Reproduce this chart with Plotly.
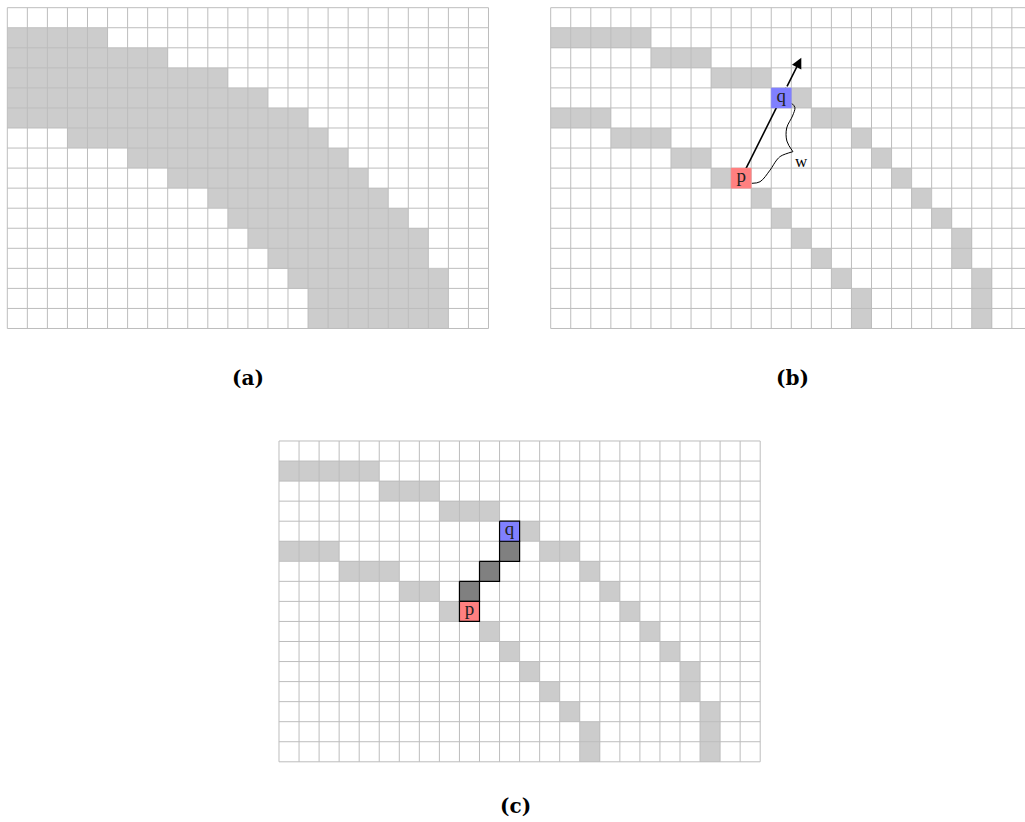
import plotly.graph_objects as go

W, H = 1025, 822
CELL = 20.05          # px per grid cell
PAD = 0.06            # extra range (cells) so border lines are not clipped
N_COLS, N_ROWS = 24, 16

# ---- data: panel (a) shaded band (per row: first..last column) ----
BAND_ROWS  = [1, 2, 3, 4, 5, 6, 7, 8, 9, 10, 11, 12, 13, 14, 15]
BAND_FIRST = [0, 0, 0, 0, 0, 3, 6, 8, 10, 11, 12, 13, 14, 15, 15]
BAND_LAST  = [4, 7, 10, 12, 14, 15, 16, 17, 18, 19, 20, 20, 21, 21, 21]

# ---- data: panels (b),(c) two boundary curves ----
UPPER_ROWS  = [1, 2, 3, 4, 5, 6, 7, 8, 9, 10, 11, 12, 13, 14, 15]
UPPER_FIRST = [0, 5, 8, 11, 13, 15, 16, 17, 18, 19, 20, 20, 21, 21, 21]
UPPER_LAST  = [4, 7, 10, 12, 14, 15, 16, 17, 18, 19, 20, 20, 21, 21, 21]

LOWER_ROWS  = [5, 6, 7, 8, 9, 10, 11, 12, 13, 14, 15]
LOWER_FIRST = [0, 3, 6, 8, 10, 11, 12, 13, 14, 15, 15]
LOWER_LAST  = [2, 5, 7, 9, 10, 11, 12, 13, 14, 15, 15]

P_CELL = (8, 9)          # (row, col)
Q_CELL = (4, 11)
ARROW_TARGET = (2, 12)   # cell whose centre the arrow points to
PATH_ROWS = [5, 6, 7]    # panel (c) dark path cells
PATH_COLS = [11, 10, 9]

# brace between p and q (cell offsets relative to p cell's top-left)
BRACE_LOW = [(1.03, 0.76), (1.44, 0.68), (1.94, 0.10), (2.27, -0.40), (2.48, -0.60), (3.08, -0.82)]
BRACE_UP = [(3.08, -0.82), (2.78, -1.35), (2.77, -2.00), (3.06, -2.60), (3.18, -3.02), (3.02, -3.23)]
W_LABEL_OFFSET = (3.51, -0.35)

PANELS = ["a", "b", "c"]
PANEL_ORIGIN = {"a": (7.3, 7.7), "b": (550.7, 7.7), "c": (279.0, 441.0)}
LABELS = {"a": "(a)", "b": "(b)", "c": "(c)"}
LABEL_POS = {"a": (248, 378), "b": (792, 378), "c": (515, 806)}

WHITE, LIGHT, DARK = "#ffffff", "#cccccc", "#808080"
GRID = "#bdbdbd"
PINK, BLUE = "#ff8080", "#8080ff"
SERIF = "Liberation Serif, DejaVu Serif, serif"


def rows_to_matrix(rows, firsts, lasts, value, z):
    for r, a, b in zip(rows, firsts, lasts):
        for c in range(a, b + 1):
            z[r][c] = value


def cell_poly(r, c):
    return [c, c + 1, c + 1, c, c], [r, r, r + 1, r + 1, r]


fig = go.Figure()

for i, key in enumerate(PANELS):
    sfx = "" if i == 0 else str(i + 1)
    xr, yr = "x" + sfx, "y" + sfx
    z = [[0] * N_COLS for _ in range(N_ROWS)]
    if key == "a":
        rows_to_matrix(BAND_ROWS, BAND_FIRST, BAND_LAST, 1, z)
    else:
        rows_to_matrix(UPPER_ROWS, UPPER_FIRST, UPPER_LAST, 1, z)
        rows_to_matrix(LOWER_ROWS, LOWER_FIRST, LOWER_LAST, 1, z)
    if key == "c":
        for r, c in zip(PATH_ROWS, PATH_COLS):
            z[r][c] = 2

    fig.add_trace(go.Heatmap(
        z=z, x=[c + 0.5 for c in range(N_COLS)], y=[r + 0.5 for r in range(N_ROWS)],
        zmin=0, zmax=2, colorscale=[[0, WHITE], [0.5, LIGHT], [1, DARK]],
        showscale=False, hoverinfo="skip", xaxis=xr, yaxis=yr))

    # grid lines
    gx, gy = [], []
    for c in range(N_COLS + 1):
        gx += [c, c, None]
        gy += [0, N_ROWS, None]
    for r in range(N_ROWS + 1):
        gx += [0, N_COLS, None]
        gy += [r, r, None]
    fig.add_trace(go.Scatter(x=gx, y=gy, mode="lines", line=dict(color=GRID, width=1),
                             hoverinfo="skip", showlegend=False, xaxis=xr, yaxis=yr))

    if key in ("b", "c"):
        pr, pc = P_CELL
        qr, qc = Q_CELL
        border = 0 if key == "b" else 1.2

        if key == "b":
            # arrow shaft from p centre to where it leaves q's top edge
            sx, sy = pc + 0.5, pr + 0.5
            tx, ty = ARROW_TARGET[1] + 0.5, ARROW_TARGET[0] + 0.5
            t = (sy - qr) / (sy - ty)
            ex, ey = sx + (tx - sx) * t, qr
            fig.add_trace(go.Scatter(x=[sx, ex], y=[sy, ey], mode="lines",
                                     line=dict(color="black", width=1.6),
                                     hoverinfo="skip", showlegend=False, xaxis=xr, yaxis=yr))
            fig.add_annotation(x=tx, y=ty, ax=ex, ay=ey, xref=xr, yref=yr, axref=xr, ayref=yr,
                               text="", showarrow=True, arrowhead=2, arrowsize=1.3,
                               arrowwidth=1.6, arrowcolor="black")
            # brace
            bx = [pc + dx for dx, dy in BRACE_LOW] + [None] + [pc + dx for dx, dy in BRACE_UP]
            by = [pr + dy for dx, dy in BRACE_LOW] + [None] + [pr + dy for dx, dy in BRACE_UP]
            fig.add_trace(go.Scatter(x=bx, y=by, mode="lines",
                                     line=dict(color="black", width=1, shape="spline", smoothing=1.0),
                                     hoverinfo="skip", showlegend=False, xaxis=xr, yaxis=yr))
            fig.add_annotation(x=pc + W_LABEL_OFFSET[0], y=pr + W_LABEL_OFFSET[1], xref=xr, yref=yr,
                               text="w", showarrow=False, font=dict(family=SERIF, size=17, color="black"))

        if key == "c":
            ox, oy = [], []
            for r, c in zip(PATH_ROWS, PATH_COLS):
                px_, py_ = cell_poly(r, c)
                ox += px_ + [None]
                oy += py_ + [None]
            fig.add_trace(go.Scatter(x=ox, y=oy, mode="lines", line=dict(color="black", width=1.2),
                                     hoverinfo="skip", showlegend=False, xaxis=xr, yaxis=yr))

        for (r, c), col, txt in ((P_CELL, PINK, "p"), (Q_CELL, BLUE, "q")):
            px_, py_ = cell_poly(r, c)
            fig.add_trace(go.Scatter(x=px_, y=py_, mode="lines", fill="toself", fillcolor=col,
                                     line=dict(color="black" if border else col, width=border if border else 0.5),
                                     hoverinfo="skip", showlegend=False, xaxis=xr, yaxis=yr))
            fig.add_trace(go.Scatter(x=[c + 0.5], y=[r + 0.45], mode="text", text=[txt],
                                     textfont=dict(family=SERIF, size=19, color="#222222"),
                                     textposition="middle center",
                                     hoverinfo="skip", showlegend=False, xaxis=xr, yaxis=yr))

    # axes / domains
    x0, y0 = PANEL_ORIGIN[key]
    xmax = N_COLS + PAD
    right_px = x0 + xmax * CELL
    if right_px > W:
        right_px = W
        xmax = (W - x0) / CELL
    xdom = [(x0 - PAD * CELL) / W, right_px / W]
    ydom = [1 - (y0 + (N_ROWS + PAD) * CELL) / H, 1 - (y0 - PAD * CELL) / H]
    fig.update_layout({
        "xaxis" + sfx: dict(domain=xdom, range=[-PAD, xmax], visible=False, fixedrange=True,
                            anchor=yr),
        "yaxis" + sfx: dict(domain=ydom, range=[N_ROWS + PAD, -PAD], visible=False, fixedrange=True,
                            anchor=xr),
    })

    lx, ly = LABEL_POS[key]
    fig.add_annotation(x=lx / W, y=1 - ly / H, xref="paper", yref="paper", text="<b>%s</b>" % LABELS[key],
                       showarrow=False, font=dict(family="DejaVu Serif, serif", size=20, color="black"),
                       xanchor="center", yanchor="middle")

fig.update_layout(width=W, height=H, margin=dict(l=0, r=0, t=0, b=0), autosize=False,
                  paper_bgcolor="white", plot_bgcolor="white", showlegend=False)

fig.write_html("out.html", config={"displayModeBar": False},
               post_script="document.body.style.margin='0';document.body.style.overflow='hidden';")
